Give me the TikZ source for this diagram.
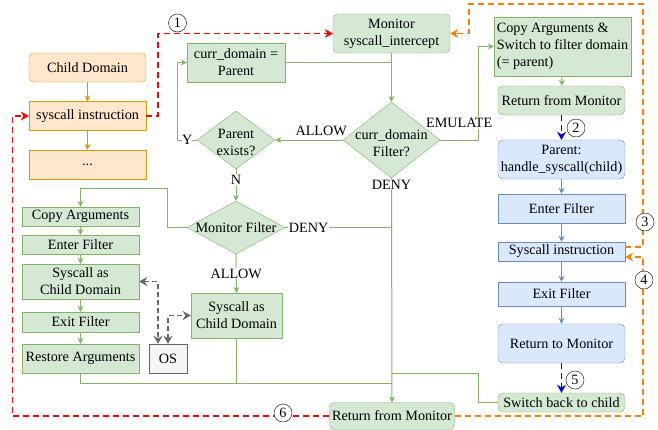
\documentclass[tikz,border=0pt]{standalone}
\usepackage{fontspec}
\setmainfont{Liberation Serif}
\usepackage{xcolor}
\usepackage{tikz}
\usetikzlibrary{arrows.meta,positioning,shapes.geometric}
\definecolor{orL}{HTML}{FFE6CC}
\definecolor{orD}{HTML}{D79B00}
\definecolor{grnL}{HTML}{D5E8D4}
\definecolor{grnD}{HTML}{82B366}
\definecolor{bluL}{HTML}{DAE8FC}
\definecolor{bluD}{HTML}{6C8EBF}
\definecolor{gryL}{HTML}{F5F5F5}
\definecolor{gryD}{HTML}{666666}
\definecolor{orgF}{HTML}{FF8000}

\begin{document}
\begin{tikzpicture}[x=1pt,y=-1pt,
  font=\fontsize{14.2}{17}\selectfont,
  orbox/.style={draw=orD,fill=orL,minimum width=117pt,minimum height=29pt,inner sep=1pt,align=center},
  gbox/.style={draw=grnD,fill=grnL,inner sep=1pt,align=center},
  bbox/.style={draw=bluD,fill=bluL,minimum width=127pt,inner sep=1pt,align=center},
  gdec/.style={diamond,draw=grnD,fill=grnL,inner sep=0pt},
  num/.style={circle,draw,fill=white,minimum size=18pt,inner sep=0pt},
  lbl/.style={fill=white,inner sep=1pt},
  oarr/.style={-{Stealth[length=6pt,width=6pt]},draw=orD,line width=1pt},
  garr/.style={-{Stealth[length=6pt,width=6pt]},draw=grnD,line width=1pt},
  gline/.style={draw=grnD,line width=1pt},
  barr/.style={-{Stealth[length=6pt,width=6pt]},draw=bluD,line width=1pt},
  flow/.style={-{Stealth[length=8pt,width=9pt]},line width=1.6pt,dash pattern=on 6pt off 4pt},
  osarr/.style={{Stealth[length=8pt,width=9pt]}-{Stealth[length=8pt,width=9pt]},draw=gryD,
                line width=1.5pt,dash pattern=on 5pt off 3pt}
]
\useasboundingbox (0,0) rectangle (658,429);
% Child domain
\node[orbox,rounded corners=5pt] (child) at (87.5,67.5) {Child Domain};
\node[orbox] (sci) at (87.5,116) {syscall instruction};
\node[orbox] (dots) at (87.5,164.5) {...};
% Monitor
\node[gbox,rounded corners=5pt,minimum width=117pt,minimum height=39pt] (mon) at (391.5,33.5)
  {Monitor\\syscall\_intercept};
\node[gbox,minimum width=98pt,minimum height=39pt] (cdp) at (236,62.5) {curr\_domain =\\Parent};
\node[gdec,minimum width=97pt,minimum height=76pt,
      label={[align=center,yshift=-3pt]center:{curr\_domain\\Filter?}}] (filt) at (391.5,140) {};
\node[gdec,minimum width=78pt,minimum height=58pt,
      label={[align=center,yshift=-2pt]center:{Parent\\exists?}}] (pex) at (236,140) {};
\node[gdec,minimum width=98pt,minimum height=53pt,
      label={center:Monitor Filter}] (mfilt) at (236,227.5) {};
\node[gbox,minimum width=91pt,minimum height=45pt] (scm) at (236.5,315.5) {Syscall as\\Child Domain};
\node[draw=gryD,fill=gryL,minimum width=38pt,minimum height=29pt,inner sep=1pt] (os) at (168,358.5) {OS};
% Left column
\node[gbox,minimum width=117pt,minimum height=19pt] (cpa) at (80.5,216.5) {Copy Arguments};
\node[gbox,minimum width=117pt,minimum height=19pt] (enf) at (80.5,244.5) {Enter Filter};
\node[gbox,minimum width=117pt,minimum height=35pt] (scl) at (80.5,281.5) {Syscall as\\Child Domain};
\node[gbox,minimum width=117pt,minimum height=20pt] (exf) at (80.5,322) {Exit Filter};
\node[gbox,minimum width=117pt,minimum height=29pt] (rst) at (80.5,358.5) {Restore Arguments};
\node[gbox,rounded corners=5pt,minimum width=125pt,minimum height=27pt] (rfmb) at (392,416) {Return from Monitor};
% Parent (filter) domain
\node[gbox,align=left,minimum width=137pt,minimum height=59pt] (cpy) at (562.5,46.5)
  {Copy Arguments \&\\Switch to filter domain\\(= parent)};
\node[gbox,rounded corners=5pt,minimum width=127pt,minimum height=29pt] (rfmr) at (561.5,100.5) {Return from Monitor};
\node[bbox,rounded corners=5pt,minimum height=39pt] (par) at (561.5,159.5) {Parent:\\handle\_syscall(child)};
\node[bbox,minimum height=29pt] (enb) at (561.5,208.5) {Enter Filter};
\node[bbox,minimum height=19pt] (scb) at (561.5,251.5) {Syscall instruction};
\node[bbox,minimum height=24pt] (exb) at (561.5,294) {Exit Filter};
\node[bbox,rounded corners=5pt,minimum height=39pt] (rtm) at (561.5,343.5) {Return to Monitor};
\node[gbox,rounded corners=5pt,minimum width=127pt,minimum height=19pt] (swb) at (561.5,402.5) {Switch back to child};
% Junctions
\coordinate (otop) at (643,4);
\coordinate (jlow) at ([yshift=-205pt]filt.south);
\coordinate (jmid) at ([yshift=-195pt]filt.south);
% Solid flow
\draw[oarr] (child) -- (sci);
\draw[oarr] (sci) -- (dots);
\draw[garr] (mon) -- (filt);
\draw[gline] (cdp.east) -- (cdp.east -| filt.north);
\draw[garr] (filt.west) -- (pex.east) node[lbl,pos=0.32,yshift=9pt] {ALLOW};
\draw[garr] (filt.east) -- ++(38,0) node[lbl,midway,yshift=17pt] {EMULATE} |- (cpy.west);
\draw[garr] (filt.south) -- (rfmb.north) node[lbl,at start,below] {DENY};
\draw[garr] (pex.west) -- ++(-19,0) node[lbl,midway,inner sep=0pt] {Y} |- (cdp.west);
\draw[garr] (pex.south) -- (mfilt.north) node[lbl,pos=0.34] {N};
\draw[garr] (mfilt.west) -- ++(-19,0) -- ++(0,-39) -| (cpa.north);
\draw[gline] (mfilt.east) -- (mfilt.east -| filt.south) node[lbl,pos=0.22] {DENY};
\draw[garr] (mfilt.south) -- (scm.north) node[lbl,midway] {ALLOW};
\draw[garr] (cpy) -- (rfmr);
\foreach \a/\b in {cpa/enf,enf/scl,scl/exf,exf/rst}
  \draw[garr] (\a) -- (\b);
\foreach \a/\b in {par/enb,enb/scb,scb/exb,exb/rtm}
  \draw[barr] (\a) -- (\b);
\draw[gline] (rst.south) |- (jlow);
\draw[gline] (scm.south) |- (jlow);
\draw[gline] (swb.west) -- ++(-19,0) |- (jmid);
% OS calls
\draw[osarr] (scl.east) -| ([xshift=-10pt]os.north);
\draw[osarr] (os.north) |- (scm.west);
% Domain switches
\draw[flow,red] (sci.east) -- ++(12,0) |- (mon.west);
\draw[flow,red] (rfmb.west) -- ++(-317,0) |- (sci.west);
\draw[flow,blue] (rfmr) -- (par);
\draw[flow,blue] (rtm) -- (swb);
\draw[flow,orgF] ([yshift=4.5pt]scb.east) -| (otop) -| ([xshift=19pt]mon.east) -- (mon.east);
\draw[flow,orgF] (rfmb.east) -| ([xshift=18pt,yshift=-5.5pt]scb.east) -- ([yshift=-5.5pt]scb.east);
% Step numbers
\node[num] (n1) at (177.5,23) {1};
\node[num] (n2) at (576,128) {2};
\node[num] (n3) at (645,222) {3};
\node[num] (n4) at (644,280) {4};
\node[num] (n5) at (575,380) {5};
\node[num] (n6) at (283,413) {6};
\end{tikzpicture}
\end{document}
